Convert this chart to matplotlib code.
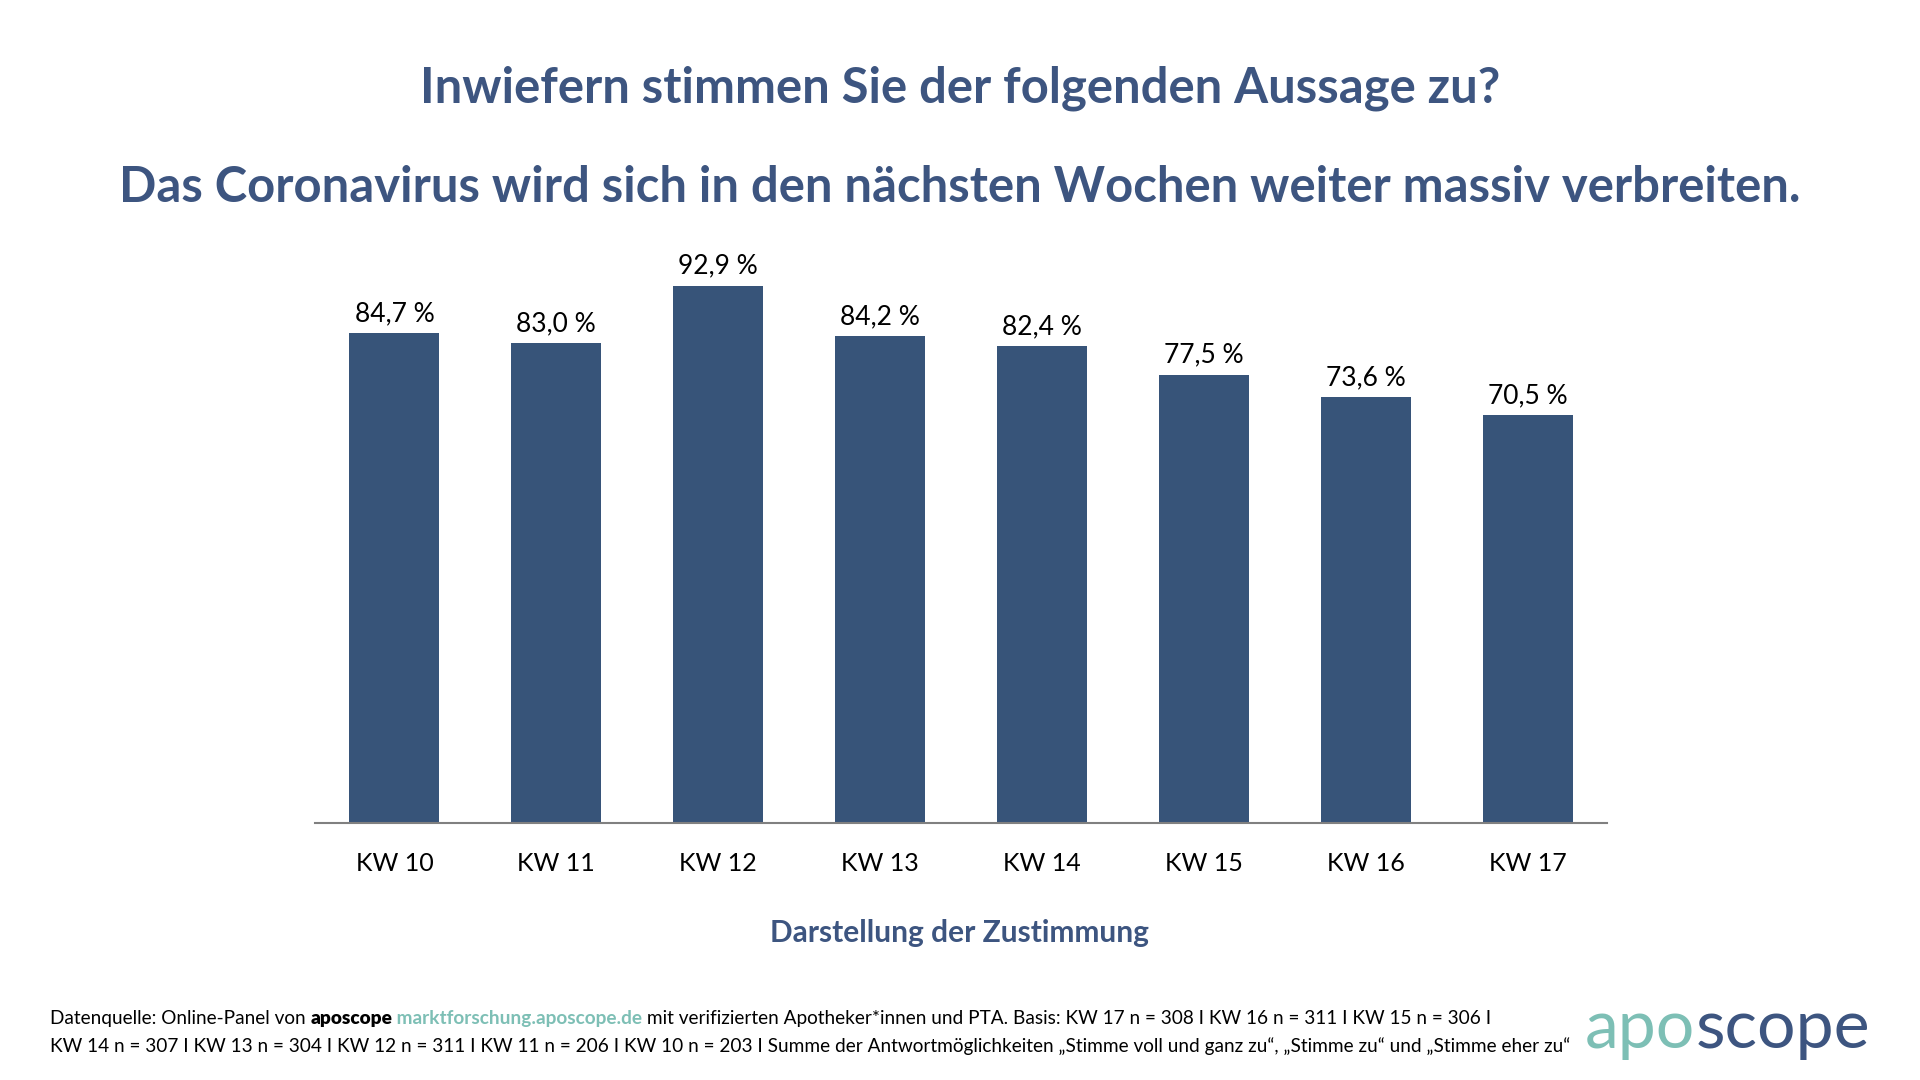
import numpy as np
import matplotlib
matplotlib.use('Agg')
import matplotlib.pyplot as plt

plt.rcParams['font.family'] = ['Lato', 'DejaVu Sans']

# Daten
wochen = ['KW 10', 'KW 11', 'KW 12', 'KW 13', 'KW 14', 'KW 15', 'KW 16', 'KW 17']
zustimmung = [84.7, 83.0, 92.9, 84.2, 82.4, 77.5, 73.6, 70.5]
labels = ['84,7 %', '83,0 %', '92,9 %', '84,2 %', '82,4 %', '77,5 %', '73,6 %', '70,5 %']

dunkelblau = '#375479'
titelblau = '#3d5580'
tuerkis = '#7dbfb5'

fig = plt.figure(figsize=(19.2, 10.8), dpi=100)
fig.patch.set_facecolor('white')
ax = fig.add_axes([0.1641, 0.238, 0.6729, 0.5356])

x = np.arange(len(wochen))
ax.bar(x, zustimmung, width=0.556, color=dunkelblau, zorder=2)
for xi, val, lab in zip(x, zustimmung, labels):
    ax.text(xi, val + 1.2, lab, ha='center', va='bottom', fontsize=19, color='black')

ax.set_xlim(-0.49, 7.49)
ax.set_ylim(0, 100)
ax.set_xticks(x)
ax.set_xticklabels(wochen, fontsize=18)
ax.tick_params(axis='x', length=0, pad=21)
ax.set_yticks([])
for s in ['top', 'right', 'left']:
    ax.spines[s].set_visible(False)
ax.spines['bottom'].set_color('#808080')
ax.spines['bottom'].set_linewidth(1.5)

# Titel
fig.text(0.5, 1 - 88 / 1080, 'Inwiefern stimmen Sie der folgenden Aussage zu?',
         ha='center', va='center', fontsize=35.3, fontweight='bold', color=titelblau)
fig.text(0.5, 1 - 187 / 1080, 'Das Coronavirus wird sich in den nächsten Wochen weiter massiv verbreiten.',
         ha='center', va='center', fontsize=35.3, fontweight='bold', color=titelblau)
fig.text(0.5, 1 - 933 / 1080, 'Darstellung der Zustimmung',
         ha='center', va='center', fontsize=21.5, fontweight='bold', color=titelblau)

# Fußzeile
fs = 13.7
t = fig.text(50 / 1920, 1 - 1027 / 1080, 'Datenquelle: Online-Panel von ', fontsize=fs,
             color='black', va='bottom', ha='left')
t = ax.annotate('aposcope', xy=(1, 0), xycoords=t, fontsize=fs, fontweight='heavy',
                color='black', va='bottom', ha='left', annotation_clip=False)
t = ax.annotate(' marktforschung.aposcope.de', xy=(1, 0), xycoords=t, fontsize=fs,
                fontweight='bold', color=tuerkis, va='bottom', ha='left', annotation_clip=False)
ax.annotate(' mit verifizierten Apotheker*innen und PTA. Basis: KW 17 n = 308 I KW 16 n = 311 I KW 15 n = 306 I',
            xy=(1, 0), xycoords=t, fontsize=fs, color='black', va='bottom', ha='left',
            annotation_clip=False)
fig.text(50 / 1920, 1 - 1055 / 1080,
         'KW 14 n = 307 I KW 13 n = 304 I KW 12 n = 311 I KW 11 n = 206 I KW 10 n = 203 I '
         'Summe der Antwortmöglichkeiten „Stimme voll und ganz zu“, „Stimme zu“ und „Stimme eher zu“',
         fontsize=fs, color='black', va='bottom', ha='left')

# Logo
t = fig.text(1585 / 1920, 1 - 1029 / 1080, 'apo', fontsize=49, color=tuerkis,
             va='center', ha='left')
ax.annotate('scope', xy=(1, 0), xycoords=t, fontsize=49, color=titelblau,
            va='bottom', ha='left', annotation_clip=False)

fig.savefig('out.png', dpi=100, facecolor='white')
